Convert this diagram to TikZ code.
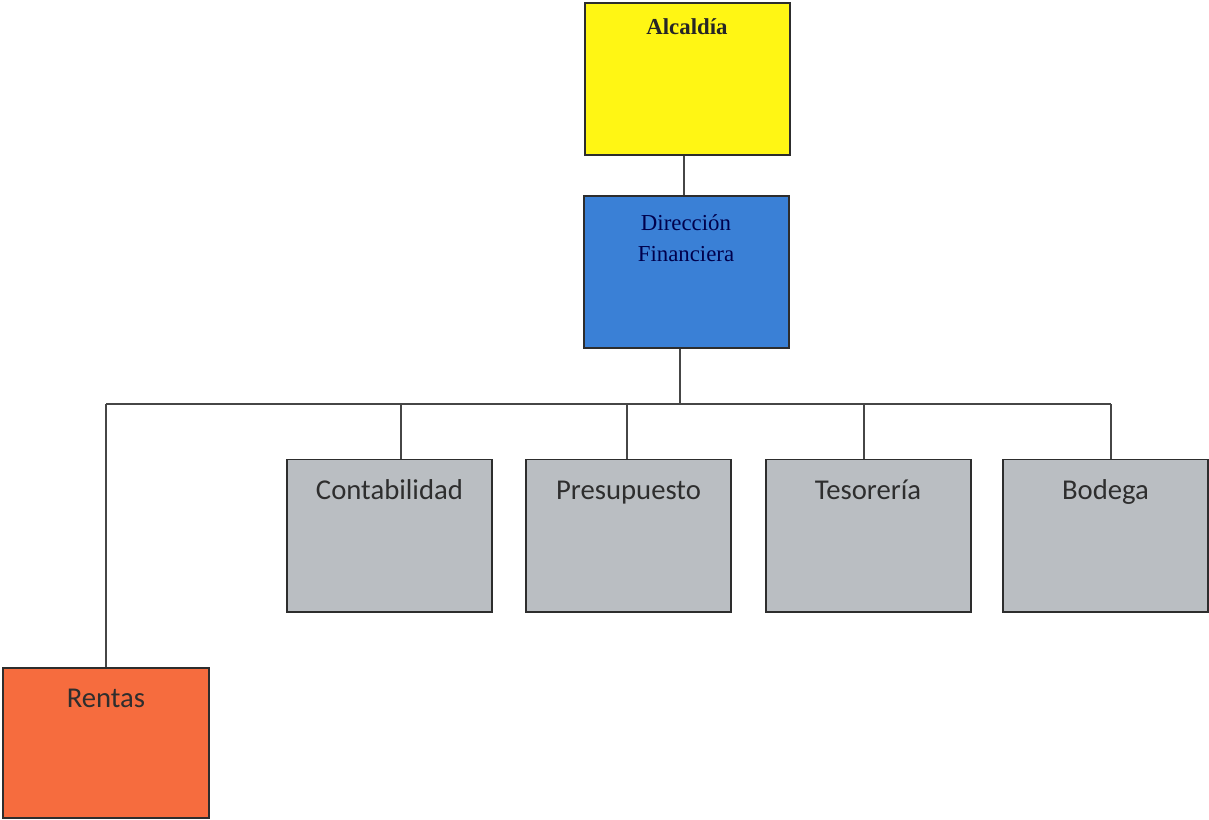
\documentclass[tikz,border=0pt]{standalone}
\usepackage{fontspec}
\setmainfont{Liberation Serif}
\newfontfamily\calibri{Carlito}
\usetikzlibrary{positioning,calc}
\usepackage{xcolor}
\definecolor{alcyellow}{RGB}{255,246,20}
\definecolor{dirblue}{RGB}{58,128,214}
\definecolor{areagrey}{RGB}{186,190,194}
\definecolor{rentorange}{RGB}{246,108,62}
\definecolor{boxline}{RGB}{45,45,45}
\definecolor{wire}{RGB}{70,70,70}

\begin{document}
\begin{tikzpicture}[x=0.03cm,y=0.03cm,
    every node/.style={inner sep=0pt},
    unit/.style={draw=boxline,line width=1.7pt,minimum width=6.15cm,minimum height=4.56cm},
    sans/.style={font=\calibri\fontsize{24.5}{28}\selectfont,text=black!82},
    serif/.style={font=\fontsize{19.5}{26.5}\selectfont,align=center}]
  \useasboundingbox (0,0) rectangle (1209,-820);
  % top of the chart
  \node[unit,fill=alcyellow,label={[serif,font=\bfseries\fontsize{19.5}{26.5}\selectfont,text=black!85,anchor=base,yshift=-0.99cm]north:Alcaldía}] (alc) at (687,-79) {};
  \node[unit,fill=dirblue,label={[serif,text=blue!30!black,anchor=center,yshift=-1.3cm]north:Dirección\\Financiera}] (dir) at (686,-272) {};
  % the five offices
  \node[unit,fill=rentorange,minimum height=4.5cm,label={[sans,anchor=base,yshift=-1.2cm]north:Rentas}] (rent) at (106,-743) {};
  \foreach \n/\x/\o/\t in {cont/389.5/11.5/Contabilidad,pres/628.5/-1.5/Presupuesto,tes/868/-4/Tesorería,bod/1105.5/5.5/Bodega} {
    \node[unit,fill=areagrey,label={[sans,anchor=base,yshift=-1.23cm]north:\t}] (\n) at (\x,-535.5) {};
    \coordinate (\n-top) at ($(\n.north)+(\o,0)$);
  }
  \coordinate (rent-top) at (rent.north);
  % connectors
  \coordinate (busL) at (106,-404);
  \coordinate (busR) at (1111,-404);
  \draw[wire,line width=1.2pt] ($(alc.south)+(-3,0)$) -- ($(dir.north)+(-2,0)$);
  \draw[wire,line width=1.2pt] ($(dir.south)+(-6,0)$) -- ($(dir.south |- busL)+(-6,0)$);
  \draw[wire,line width=1.2pt] (busL) -- (busR);
  \foreach \n in {rent,cont,pres,tes,bod}
    \draw[wire,line width=1.2pt] (\n-top) -- (\n-top |- busL);
\end{tikzpicture}
\end{document}
